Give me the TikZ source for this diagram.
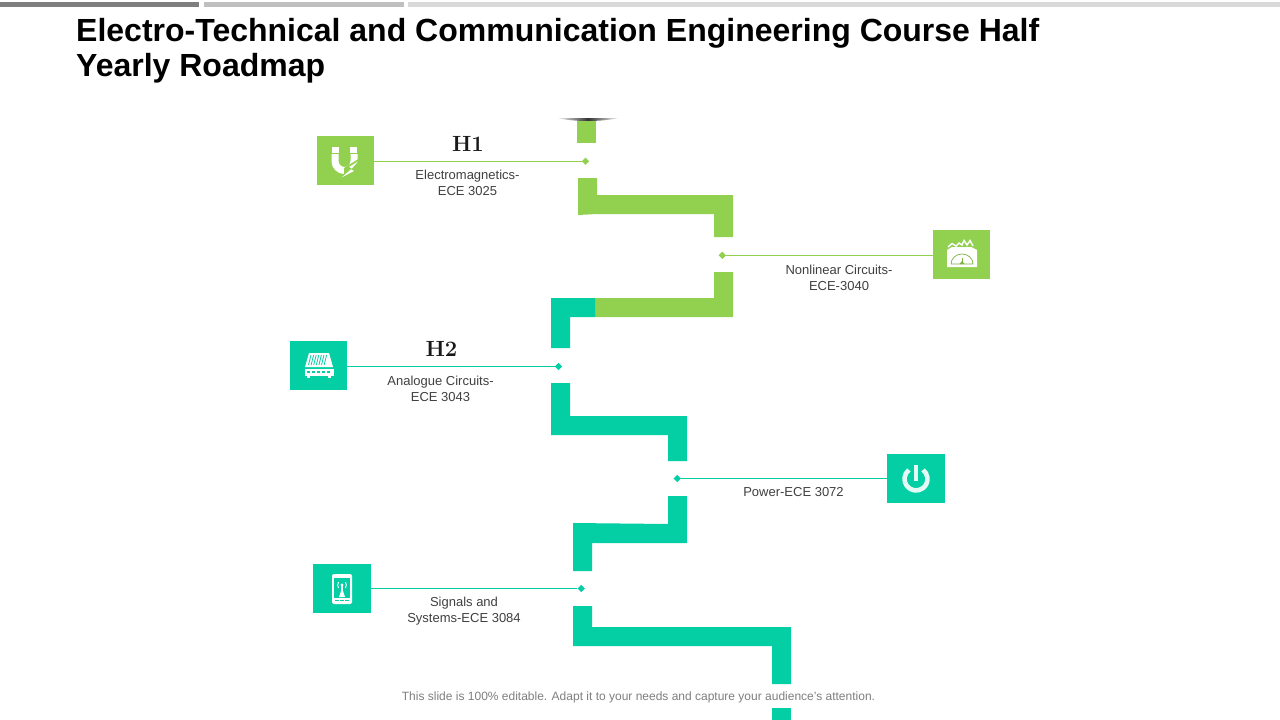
\documentclass[tikz,border=0pt]{standalone}
\usepackage{fontspec}
\setsansfont{Liberation Sans}
\usetikzlibrary{shapes.geometric,shadings}
\definecolor{grn}{HTML}{92D050}
\definecolor{teal2}{HTML}{03CEA4}
\definecolor{lbl}{HTML}{404040}
\definecolor{foot}{HTML}{7F7F7F}
\definecolor{powc}{HTML}{E4FBF5}
\tikzset{
 iconbox/.style={draw=none,minimum width=57.5pt,minimum height=49pt,inner sep=0pt},
 dotmark/.style={diamond,inner sep=0pt,minimum size=7.5pt},
 lab/.style={font=\sffamily\fontsize{13}{16}\selectfont,text=lbl,align=center,inner sep=0pt},
 hlab/.style={font=\bfseries\fontsize{22}{24}\selectfont,text=black!90,inner sep=0pt},
 conn/.style={line width=0.9pt},
 road/.style={draw=none},
}
\begin{document}
\begin{tikzpicture}[x=1pt,y=-1pt]
\useasboundingbox (0,0) rectangle (1280,720);
\fill[white] (0,0) rectangle (1280,720);
% top bars
\fill[foot] (0,2) rectangle (199,7);
\fill[black!25] (204,2) rectangle (404,7);
\fill[black!15] (408,2) rectangle (1280,7);
% title
\node[anchor=north west,inner sep=0pt,font=\sffamily\bfseries\fontsize{32}{35.5}\selectfont,align=left,text=black] (title) at (76,18)
 {Electro-Technical and Communication Engineering Course Half\\Yearly Roadmap};
% road
\fill[road,grn] (577,120) rectangle (596,143);
\shade[left color=black!3,right color=black!3,middle color=black!80] (557,118) .. controls (575,122) and (600,122) .. (619,118) -- cycle;
\fill[road,grn] (578,178) -- (597,178) -- (597,195) -- (733,195) -- (733,237) -- (714,237) -- (714,214) -- (597,214) -- (578,215) -- cycle;
\fill[road,grn] (714,272) -- (733,272) -- (733,317) -- (595,317) -- (595,298) -- (714,298) -- cycle;
\fill[road,teal2] (551,298) -- (595,298) -- (595,317) -- (570,317) -- (570,348) -- (551,348) -- cycle;
\fill[road,teal2] (551,383) -- (570,383) -- (570,416) -- (687,416) -- (687,461) -- (668,461) -- (668,435) -- (551,435) -- cycle;
\fill[road,teal2] (668,496) -- (687,496) -- (687,543) -- (592,543) -- (592,571) -- (573,571) -- (573,523) -- (668,524) -- cycle;
\fill[road,teal2] (573,606) -- (592,606) -- (592,627) -- (791,627) -- (791,684) -- (772,684) -- (772,646) -- (573,646) -- cycle;
\fill[road,teal2] (772,708) rectangle (791,720);
% icon boxes
\node[iconbox,fill=grn] (ic1) at (345.5,160.5) {};
\node[iconbox,fill=grn] (ic2) at (961.5,254.5) {};
\node[iconbox,fill=teal2] (ic3) at (318.5,365.5) {};
\node[iconbox,fill=teal2] (ic4) at (916,478.5) {};
\node[iconbox,fill=teal2] (ic5) at (342,588.5) {};
% dots
\node[dotmark,fill=grn] (d1) at (585.5,161.3) {};
\node[dotmark,fill=grn] (d2) at (722.3,255.3) {};
\node[dotmark,fill=teal2] (d3) at (558.5,366.5) {};
\node[dotmark,fill=teal2] (d4) at (677.3,478.5) {};
\node[dotmark,fill=teal2] (d5) at (581.3,588.5) {};
% connectors
\draw[conn,grn] (ic1.east |- d1) -- (d1);
\draw[conn,grn] (ic2.west |- d2) -- (d2);
\draw[conn,teal2] (ic3.east |- d3) -- (d3);
\draw[conn,teal2] (ic4.west |- d4) -- (d4);
\draw[conn,teal2] (ic5.east |- d5) -- (d5);
% labels
\node[hlab] (h1) at (468,143.5) {H1};
\node[hlab] (h2) at (441.5,348.5) {H2};
\node[lab] (t1) at (467.5,182.5) {Electromagnetics-\\ECE 3025};
\node[lab] (t2) at (839,277.5) {Nonlinear Circuits-\\ECE-3040};
\node[lab] (t3) at (440.5,388.5) {Analogue Circuits-\\ECE 3043};
\node[lab] (t4) at (793.5,492) {Power-ECE 3072};
\node[lab] (t5) at (464,611.5) {Signals and\\Systems-ECE 3084};
\node[font=\sffamily\fontsize{12}{14}\selectfont,text=foot,inner sep=0pt] (foot) at (638.5,697.5) {This slide is 100\% editable. Adapt it to your needs and capture your audience's attention.};
% magnet icon
\begin{scope}
\draw[white,line width=7pt] (335,154) -- (335,161) arc[start angle=180,delta angle=-180,radius=9.5] -- (354,154);
\fill[white] (332,147) rectangle (339,152.5);
\fill[white] (350,147) rectangle (357,152.5);
\fill[grn] (344,168) -- (360,158) -- (358,172) -- (344,180) -- cycle;
\fill[white] (358,161.5) -- (349,167) -- (352,168.5) -- (341.5,177.5) -- (354,171) -- (351,169.5) -- cycle;
\end{scope}
% meter icon
\begin{scope}
\fill[white] (947,250) -- (947,267) -- (977,267) -- (977,250) -- (971,247) -- (952,247) -- cycle;
\draw[white,line width=1.4pt] (948,247) -- (952,243.5) -- (956,246) -- (959,243) -- (962,245) -- (964,240.5) -- (967,245) -- (970,240.5) -- (973,246);
\draw[grn!85!black,line width=0.7pt] (951,264) arc[start angle=180,end angle=360,x radius=11,y radius=10] -- cycle;
\draw[grn!85!black,line width=0.7pt] (962,258) -- (962,264);
\fill[grn!85!black] (959.5,264) -- (964.5,264) -- (962,261) -- cycle;
\end{scope}
% router icon
\begin{scope}
\fill[white] (309,353) -- (329,353) -- (333,367) -- (305,367) -- cycle;
\fill[white] (304.5,368.5) rectangle (333.5,375.5);
\fill[white] (307,375.5) rectangle (310,377.5);
\fill[white] (328,375.5) rectangle (331,377.5);
\foreach \i in {0,1,2,3,4,5,6}{
  \draw[teal2,line width=0.8pt] (311+\i*2.6,355) -- (308.5+\i*2.6,365);
}
\foreach \i in {0,1,2,3,4}{
  \fill[teal2] (307+\i*4.9,370.5) rectangle ++(3.2,2.6);
}
\end{scope}
% power icon
\begin{scope}
\draw[powc,line width=4.6pt] (908.9,469.9) arc[start angle=232,delta angle=-284,radius=11.5];
\draw[powc,line width=4.6pt] (916,465) -- (916,481);
\end{scope}
% phone icon
\begin{scope}
\fill[white,rounded corners=2pt] (332,574) rectangle (352,604);
\fill[teal2] (334,578) rectangle (350,598);
\fill[white] (341.3,585) rectangle (342.7,597);
\fill[white] (342,588) -- (339,597) -- (345,597) -- cycle;
\fill[white] (342,585) circle[radius=1.6];
\draw[white,line width=0.9pt] (338.5,582) arc[start angle=210,end angle=150,radius=6];
\draw[white,line width=0.9pt] (345.5,582) arc[start angle=-30,end angle=30,radius=6];
\draw[teal2,line width=0.8pt] (335,600.5) -- (339,600.5) (340,600.5) -- (344,600.5) (345,600.5) -- (349,600.5);
\end{scope}
\end{tikzpicture}
\end{document}
